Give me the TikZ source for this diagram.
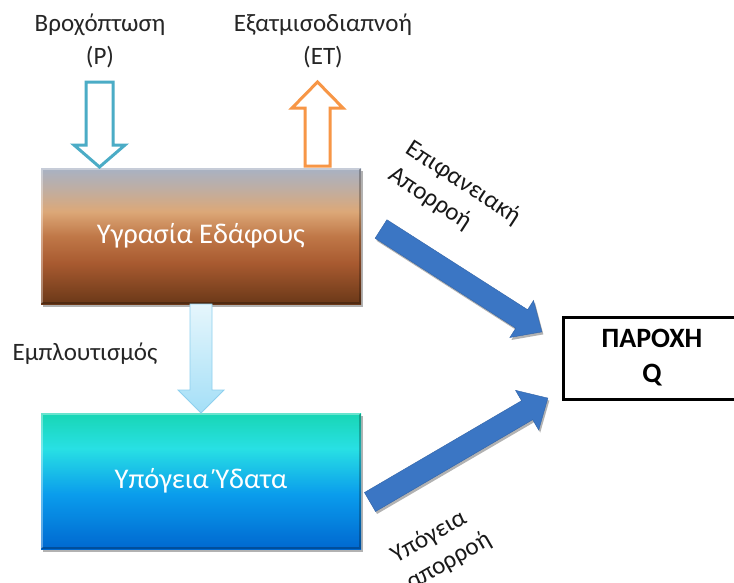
\documentclass[tikz,border=0pt]{standalone}
\usepackage{fontspec}
\setmainfont{Carlito}
\usetikzlibrary{shadows}
\definecolor{rainc}{HTML}{4BACC6}
\definecolor{etc}{HTML}{F79646}
\definecolor{flowc}{HTML}{3B76C4}
\definecolor{rechc}{HTML}{8FD0EE}
\definecolor{soilA}{HTML}{6A3818}
\definecolor{soilB}{HTML}{A85A30}
\definecolor{soilC}{HTML}{C07848}
\definecolor{soilD}{HTML}{DCA878}
\definecolor{soilE}{HTML}{A8B2C4}
\definecolor{gwA}{HTML}{0068D0}
\definecolor{gwB}{HTML}{0A9CEC}
\definecolor{gwC}{HTML}{28E0E4}
\definecolor{gwD}{HTML}{18D6B4}
\definecolor{rtop}{HTML}{E6F6FC}
\definecolor{rbot}{HTML}{A4DFF7}
\pgfdeclareverticalshading{soilshade}{100bp}{color(0bp)=(soilA); color(25bp)=(soilA); color(40bp)=(soilB); color(50bp)=(soilC); color(59bp)=(soilD); color(68bp)=(soilE!60!soilD); color(75bp)=(soilE); color(100bp)=(soilE)}
\pgfdeclareverticalshading{gwshade}{100bp}{color(0bp)=(gwA); color(25bp)=(gwA); color(45bp)=(gwB); color(62bp)=(gwC); color(75bp)=(gwD); color(100bp)=(gwD)}
\pgfdeclareverticalshading{rechshade}{100bp}{color(0bp)=(rbot); color(25bp)=(rbot); color(75bp)=(rtop); color(100bp)=(rtop)}
\tikzset{
  lbl/.style={font=\fontsize{25}{33}\selectfont, align=center, text=black!85},
  rlbl/.style={font=\fontsize{25}{31}\selectfont, align=left, text=black!90, inner sep=0pt},
  boxtxt/.style={font=\fontsize{28.5}{32}\selectfont, text=white},
  shd/.style={drop shadow={shadow xshift=1.5pt, shadow yshift=-2.5pt, opacity=0.3, fill=black}},
  bigbox/.style={minimum width=320pt, minimum height=136pt, inner sep=0pt, shd},
  hilite/.style={white, opacity=0.35, line width=2pt},
  lowlite/.style={black, opacity=0.25, line width=2pt},
  hollowarrow/.style={line width=3pt, fill=white, line join=miter},
  flowarrow/.style={fill=flowc, draw=flowc!85!black, line width=0.4pt, shd},
}
\begin{document}
\begin{tikzpicture}[x=1pt,y=-1pt]
\useasboundingbox (0,0) rectangle (734,582);
\fill[white] (0,0) rectangle (734,582);

% labels
\node[lbl] (rain) at (100,41) {Βροχόπτωση\\(P)};
\node[lbl] (et) at (323,41) {Εξατμισοδιαπνοή\\(ET)};
\node[lbl] (rech) at (85,354) {Εμπλουτισμός};

% boxes
\node[bigbox, shading=soilshade, boxtxt] (soil) at (201,236) {Υγρασία Εδάφους};
\draw[hilite] ([xshift=1pt,yshift=1pt]soil.south west) -- ([xshift=1pt,yshift=-1pt]soil.north west) -- ([xshift=-1pt,yshift=-1pt]soil.north east);
\draw[lowlite] ([xshift=1pt,yshift=1pt]soil.south west) -- ([xshift=-1pt,yshift=1pt]soil.south east) -- ([xshift=-1pt,yshift=-1pt]soil.north east);
\node[bigbox, shading=gwshade, boxtxt] (gw) at (201,481) {Υπόγεια Ύδατα};
\draw[hilite] ([xshift=1pt,yshift=1pt]gw.south west) -- ([xshift=1pt,yshift=-1pt]gw.north west) -- ([xshift=-1pt,yshift=-1pt]gw.north east);
\draw[lowlite] ([xshift=1pt,yshift=1pt]gw.south west) -- ([xshift=-1pt,yshift=1pt]gw.south east) -- ([xshift=-1pt,yshift=-1pt]gw.north east);
\node[draw=black, line width=3pt, fill=white, minimum width=200pt, minimum height=82pt, align=center,
      font=\fontsize{28}{35}\selectfont\bfseries] (q) at (663,358) {\hspace*{-22pt}ΠΑΡΟΧΗ\\\hspace*{-22pt}Q};

% precipitation arrow
\draw[hollowarrow, draw=rainc] (86,82) -- (113,82) -- (113,145) -- (125,145) -- (99.5,167) -- (74,145) -- (86,145) -- cycle;
% evapotranspiration arrow
\draw[hollowarrow, draw=etc] (317.5,82) -- (343,108) -- (330,108) -- (330,166) -- (305,166) -- (305,108) -- (292,108) -- cycle;
% recharge arrow
\draw[shading=rechshade, draw=rechc, line width=0.8pt] (190,304) -- (212,304) -- (212,390) -- (224,390) -- (201,413) -- (178,390) -- (190,390) -- cycle;

% surface runoff arrow
\coordinate (sa) at (381,229);
\begin{scope}[shift={(sa)}, rotate=-32.6]
\path[flowarrow] (0,-11) -- (167,-11) -- (167,-22) -- (191,0) -- (167,22) -- (167,11) -- (0,11) -- cycle;
\end{scope}
% groundwater runoff arrow
\coordinate (ga) at (370,502);
\begin{scope}[shift={(ga)}, rotate=30.3]
\path[flowarrow] (0,-11) -- (182,-11) -- (182,-23) -- (206,0) -- (182,23) -- (182,11) -- (0,11) -- cycle;
\end{scope}

% rotated labels
\node[rlbl, rotate=-33] (surf) at (455,196) {Επιφανειακή\\Απορροή};
\node[rlbl, rotate=30] (sub) at (441,548) {Υπόγεια\\απορροή};
\end{tikzpicture}
\end{document}
